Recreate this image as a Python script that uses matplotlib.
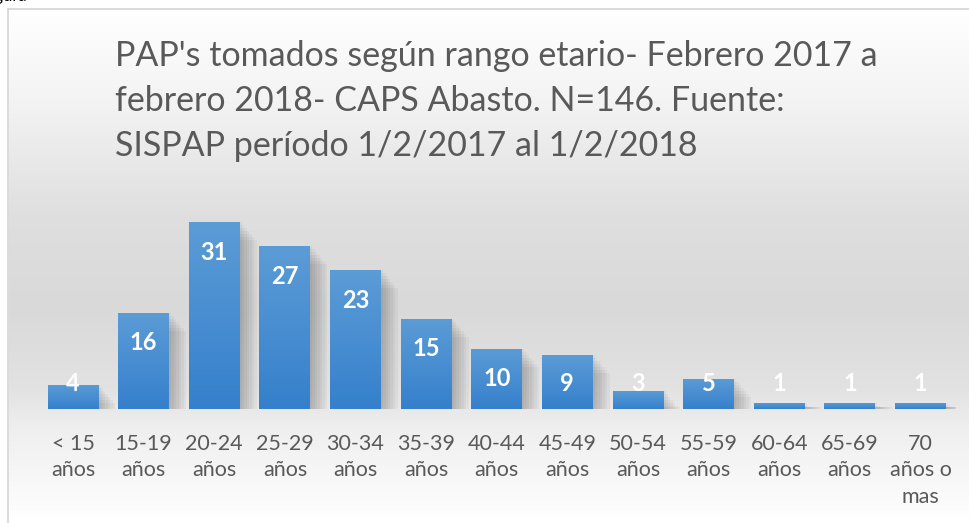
import numpy as np
import matplotlib
matplotlib.use("Agg")
import matplotlib.pyplot as plt
from matplotlib.colors import LinearSegmentedColormap

categories = ["< 15\naños", "15-19\naños", "20-24\naños", "25-29\naños", "30-34\naños",
              "35-39\naños", "40-44\naños", "45-49\naños", "50-54\naños", "55-59\naños",
              "60-64\naños", "65-69\naños", "70\naños o\nmas"]
values = [4, 16, 31, 27, 23, 15, 10, 9, 3, 5, 1, 1, 1]
title = ("PAP's tomados según rango etario- Febrero 2017 a\n"
         "febrero 2018- CAPS Abasto. N=146. Fuente:\n"
         "SISPAP período 1/2/2017 al 1/2/2018")

W, H = 970, 523
fig = plt.figure(figsize=(W / 100, H / 100), dpi=100)
fig.patch.set_facecolor("white")

def fx(px):
    return px / W

def fy(py):
    return 1 - py / H

# background gradient of the chart area
bg = fig.add_axes([fx(9), 0, 1 - fx(9), fy(9)])
bg.set_axis_off()
stops = [(0.0, "#ffffff"), (0.18, "#f3f3f3"), (0.40, "#dfdfdf"), (0.58, "#d9d9d9"),
         (0.74, "#e2e2e2"), (0.82, "#efefef"), (1.0, "#ffffff")]
cmap_bg = LinearSegmentedColormap.from_list("bg", stops)
grad = np.linspace(0, 1, 512).reshape(-1, 1)
bg.imshow(grad, aspect="auto", cmap=cmap_bg, extent=[0, 1, 1, 0], vmin=0, vmax=1)
bg.set_xlim(0, 1)
bg.set_ylim(1, 0)

# frame lines (left and top)
fig.add_artist(plt.Line2D([fx(8.5), fx(8.5)], [0, fy(8.5)], color="#d4d4d4", lw=1.2))
fig.add_artist(plt.Line2D([fx(8.5), 1], [fy(8.5), fy(8.5)], color="#d4d4d4", lw=1.2))

# cut-off caption above the frame
fig.text(fx(-19), fy(1), "Figura", fontsize=12, family="Lato", color="#000000",
         va="baseline", ha="left")

# main axes
ax = fig.add_axes([fx(37.7), 1 - 409 / H, fx(955.8 - 37.7), (409 - 198) / H])
ax.set_facecolor("none")
x = np.arange(len(values))
bars = ax.bar(x, values, width=0.72, color="none", edgecolor="none", zorder=3)
ax.set_xlim(-0.5, len(values) - 0.5)
ax.set_ylim(0, 35)

# soft shadows
for b in bars:
    bx, bw, bh = b.get_x(), b.get_width(), b.get_height()
    for k in range(7):
        off = 0.03 + 0.035 * k
        ax.add_patch(plt.Rectangle((bx + off, 0), bw, max(bh - 0.5 * k, 0.3),
                                   facecolor="#000000", alpha=0.035, edgecolor="none", zorder=2))

# gradient bars
cmap_bar = LinearSegmentedColormap.from_list("bar", ["#3580cc", "#5c9cd6"])
bgrad = np.linspace(0, 1, 256).reshape(-1, 1)
for b in bars:
    bx, bw, bh = b.get_x(), b.get_width(), b.get_height()
    im = ax.imshow(bgrad, aspect="auto", cmap=cmap_bar, origin="lower",
                   extent=[bx, bx + bw, 0, bh], zorder=3)
    im.set_clip_path(b)
ax.set_xlim(-0.5, len(values) - 0.5)
ax.set_ylim(0, 35)

# data labels
for xi, v in zip(x, values):
    ly = max(v - 4.97, 4.3)
    ax.text(xi, ly, str(v), ha="center", va="center", color="white",
            fontsize=17, fontweight="bold", family="Lato", zorder=5)

ax.set_xticks(x)
ax.set_xticklabels(categories, fontsize=15.5, color="#595959", family="Lato",
                   linespacing=1.4, va="top")
ax.tick_params(axis="x", length=0, pad=18)
ax.set_yticks([])
for s in ax.spines.values():
    s.set_visible(False)

fig.text(fx(115), fy(40), title, fontsize=24.5, color="#595959", family="Lato",
         va="top", ha="left", linespacing=1.5)

fig.savefig("out.png", dpi=100)
